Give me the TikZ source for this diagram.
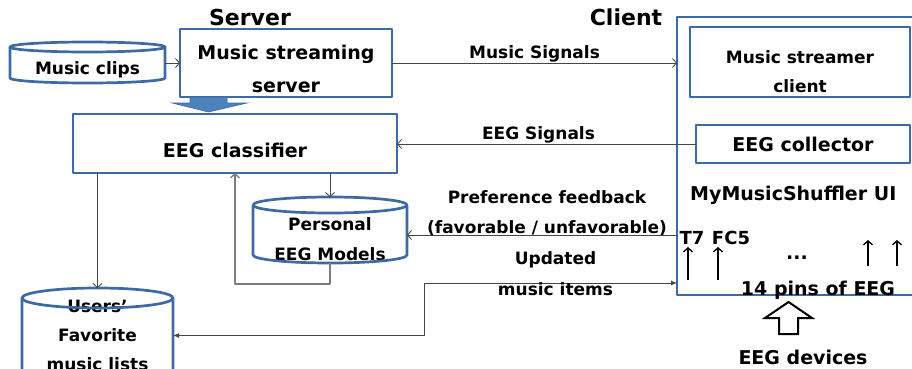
\documentclass[tikz,border=0pt]{standalone}
\usepackage{fontspec}
\setmainfont{DejaVu Sans}
\usetikzlibrary{arrows.meta,positioning}

\definecolor{boxblue}{RGB}{61,106,162}
\definecolor{fillblue}{RGB}{79,129,189}
\definecolor{wiregray}{RGB}{70,70,70}
\definecolor{loopgray}{RGB}{125,125,125}

\newcommand\bigfont{\bfseries\fontsize{19}{33}\selectfont}
\newcommand\midfont{\bfseries\fontsize{17}{29}\selectfont}
\newcommand\up[1]{\rule{0pt}{#1pt}}

% cylinder round a text node: name, half width, ry, top y, bottom y
\newcommand\dbdraw[5]{%
  \coordinate (#1 top) at (#1.center |- 0,#4);
  \coordinate (#1 bot) at (#1.center |- 0,#5);
  \draw[dbline] (#1.center |- 0,#4+#3) ellipse[x radius=#2pt, y radius=#3pt];
  \draw[dbline] (#1.west |- 0,#4+#3) -- (#1.west |- 0,#5-#3)
    arc[start angle=180, end angle=360, x radius=#2pt, y radius=#3pt]
    -- (#1.east |- 0,#4+#3);
}

\begin{document}
\begin{tikzpicture}[x=1pt, y=-1pt, line join=round,
  box/.style={draw=boxblue, line width=2.7pt, inner sep=0pt, outer sep=0pt, align=center, font=\bigfont},
  dbtext/.style={inner sep=0pt, outer sep=0pt, align=center, font=\midfont},
  dbline/.style={draw=boxblue, line width=2.7pt},
  lbl/.style={inner sep=0pt, align=center, font=\midfont},
  wire/.style={draw=wiregray, line width=0.8pt, -{Straight Barb[length=4pt,width=9pt]}},
  loopwire/.style={draw=loopgray, line width=1.3pt, -{Straight Barb[length=4pt,width=9pt]}},
  dblwire/.style={draw=wiregray, line width=0.8pt, {Latex[length=6pt,width=5pt]}-{Latex[length=6pt,width=5pt]}},
  pin/.style={draw=black, line width=1.3pt, -{Straight Barb[length=4pt,width=9pt]}},
  blockarrow/.style={fill=fillblue, draw=boxblue, line width=0.6pt, line join=miter},
  hollow/.style={fill=white, draw=black, line width=2pt, line join=miter}]
  \clip[use as bounding box] (0,0) rectangle (912,369);

  % titles
  \node[font=\bfseries\fontsize{22}{26}\selectfont] (server) at (250,17) {Server};
  \node[font=\bfseries\fontsize{22}{26}\selectfont] (clienttitle) at (626,17) {Client};

  % server side
  \node[box, minimum width=212, minimum height=68] (srv) at (286,63) {\up{27}Music streaming\\server};
  \node[box, minimum width=324, minimum height=59] (cls) at (235,143.5) {\up{29}EEG classifier};
  \node[dbtext, minimum width=155] (clips) at (87.5,70) {Music clips};
  \node[dbtext, minimum width=154, font=\bfseries\fontsize{17}{30}\selectfont] (pem) at (330,239.5) {Personal\\EEG Models};
  \node[dbtext, minimum width=151] (fav) at (97.5,335.5) {Users’\\Favorite\\music lists};
  \dbdraw{clips}{77.5}{5}{42}{83}
  \dbdraw{pem}{77}{8}{197}{263}
  \dbdraw{fav}{75.5}{10}{288}{420}

  % client side
  \node[box, minimum width=263, minimum height=278] (client) at (808.5,156) {};
  \node[box, font=\midfont, minimum width=220, minimum height=70] (msc) at (800,62) {\up{33}Music streamer\\client};
  \node[box, minimum width=214, minimum height=38] (col) at (803,144) {EEG collector};
  \node[anchor=west, inner sep=0pt, font=\bigfont] (ui) at (690,195) {MyMusicShuffler UI};
  \node[font=\bfseries\fontsize{18}{22}\selectfont] (t7) at (692,238) {T7};
  \node[font=\bfseries\fontsize{18}{22}\selectfont] (fc5) at (731,238) {FC5};
  \node[font=\bigfont] (dots) at (797,258) {...};
  \node[font=\bigfont] (pins) at (818,290) {14 pins of EEG};
  \node[font=\bigfont] (dev) at (803,357) {EEG devices};
  \foreach \x/\a/\b in {688/280/247, 718/280/247, 868/266/240, 897/266/240}
    \draw[pin] (\x,\a) -- (\x,\b);
  \coordinate (devarrow) at (779,334);
  \draw[hollow] (devarrow) -- ++(0,-16) -- ++(-14,0) -- ++(23.5,-16) -- ++(23.5,16) -- ++(-14,0) -- ++(0,16) -- cycle;

  % connectors
  \filldraw[blockarrow] ([xshift=10pt]srv.south west) -- ++(37,0) -- ++(0,6) -- ++(20,0) -- ++(-38.5,9) -- ++(-36.5,-9) -- ++(18,0) -- cycle;
  \draw[wire] (clips.east |- srv.west) -- (srv.west);
  \draw[wire] (srv.east) -- node[lbl, above] (msig) {Music Signals} (client.west |- srv.east);
  \draw[wire] (col.west) -- node[lbl, above, xshift=-8pt] (esig) {EEG Signals} (cls.east |- col.west);
  \draw[wire] (pem top |- cls.south) -- (pem top);
  \draw[wire] (fav top |- cls.south) -- (fav top);
  \draw[loopwire] (pem bot) -- ++(0,21) -| (cls.south);
  \coordinate (pref) at ([yshift=4.5pt]pem.east);
  \draw[wire] (client.west |- pref) -- node[lbl, above=-1pt, xshift=5pt, font=\bfseries\fontsize{17}{30}\selectfont] (fback) {Preference feedback\\(favorable / unfavorable)} (pref);
  \coordinate (updbend) at (424,283);
  \draw[dblwire] (client.west |- updbend) -- node[lbl, yshift=9pt, xshift=5pt, font=\bfseries\fontsize{17}{31}\selectfont] (upd) {Updated\\music items} (updbend) |- (fav.east);
\end{tikzpicture}
\end{document}
